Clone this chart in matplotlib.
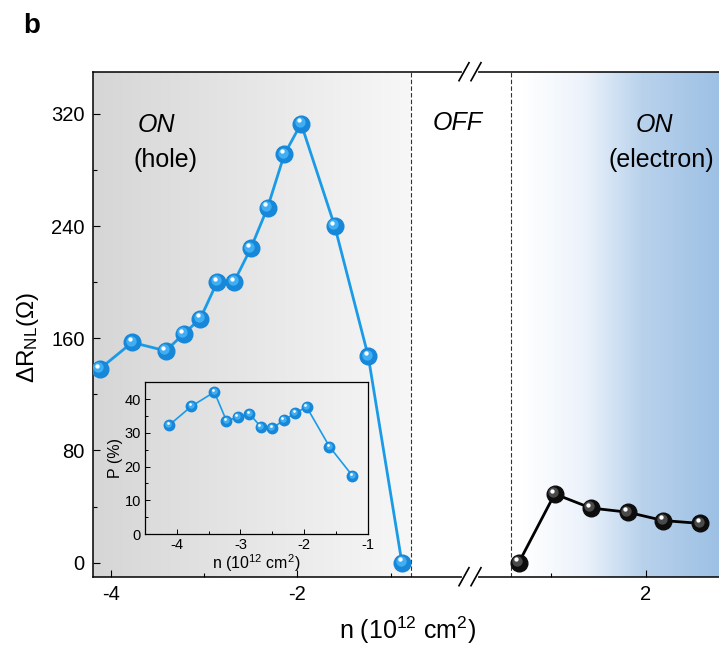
import numpy as np
import matplotlib
matplotlib.use('Agg')
import matplotlib.pyplot as plt
from matplotlib.ticker import MultipleLocator
from matplotlib.transforms import offset_copy
from matplotlib.colors import LinearSegmentedColormap
from matplotlib.lines import Line2D

plt.rcParams['font.family'] = ['Liberation Sans', 'DejaVu Sans']
plt.rcParams['mathtext.fontset'] = 'custom'
plt.rcParams['mathtext.rm'] = 'Liberation Sans'
plt.rcParams['mathtext.it'] = 'Liberation Sans:italic'
plt.rcParams['axes.unicode_minus'] = False

# hole side (main panel)
n_hole = [-4.12, -3.77, -3.41, -3.22, -3.04, -2.86, -2.68, -2.50, -2.32, -2.14, -1.96, -1.60, -1.24, -0.88]
dR_hole = [138, 157, 151, 163, 174, 200, 200, 224, 253, 291, 313, 240, 147, 0]
# electron side
n_elec = [0.66, 1.04, 1.42, 1.81, 2.19, 2.58]
dR_elec = [0, 49, 39, 36, 30, 28]
# inset: polarisation
n_in = [-4.12, -3.77, -3.41, -3.22, -3.04, -2.86, -2.68, -2.50, -2.32, -2.14, -1.96, -1.60, -1.24]
P_in = [32.3, 37.9, 42.1, 33.6, 34.6, 35.7, 31.8, 31.3, 33.8, 35.8, 37.7, 25.9, 17.3]

hole_edge = -0.786
elec_edge = 0.579

W, H = 719, 657
fig = plt.figure(figsize=(W/100, H/100), dpi=100)

def fx(px):
    return px / W
def fy(py):
    return 1 - py / H

x_break = 470
axL = fig.add_axes([fx(93), fy(576.7), fx(x_break) - fx(93), fy(71.7) - fy(576.7)])
axR = fig.add_axes([fx(x_break), fy(576.7), 1.0 - fx(x_break) + 0.003, fy(71.7) - fy(576.7)], sharey=axL)

axL.set_xlim(-4.19, -0.15)
axR.set_xlim(0.144, 2.80)
axL.set_ylim(-10, 350)

# background gradients
xg = np.linspace(-4.19, -0.15, 400)
gray = LinearSegmentedColormap.from_list('g', ['#d6d6d6', '#f7f7f7'])
t = np.clip((xg + 4.19) / (hole_edge + 4.19), 0, 1)
cols = gray(t)
cols[xg > hole_edge] = [1, 1, 1, 1]
axL.imshow(cols[None, :, :], extent=(-4.19, -0.15, -10, 350), aspect='auto', zorder=0)

xr = np.linspace(0.144, 2.80, 400)
blue = LinearSegmentedColormap.from_list('b', [(0, '#ffffff'), (0.3, '#edf3fb'), (0.6, '#b9d2ec'), (1, '#9cc0e4')])
tr_ = np.clip((xr - 0.70) / (2.80 - 0.70), 0, 1)
axR.imshow(blue(tr_)[None, :, :], extent=(0.144, 2.80, -10, 350), aspect='auto', zorder=0)

axL.axvline(hole_edge, color='#333333', lw=0.8, ls=(0, (4, 2)), zorder=1)
axR.axvline(elec_edge, color='#333333', lw=0.8, ls=(0, (4, 2)), zorder=1)


def sphere(ax, x, y, base, mid, ms, z):
    ax.plot(x, y, 'o', ms=ms, color=base, mec=base, ls='none', zorder=z)
    t1 = offset_copy(ax.transData, fig=fig, x=-ms*0.08, y=ms*0.10, units='points')
    ax.plot(x, y, 'o', ms=ms*0.62, color=mid, mec='none', ls='none', alpha=0.85, transform=t1, zorder=z+0.1)
    t2 = offset_copy(ax.transData, fig=fig, x=-ms*0.14, y=ms*0.2, units='points')
    ax.plot(x, y, 'o', ms=ms*0.26, color='white', mec='none', ls='none', transform=t2, zorder=z+0.2)


axL.plot(n_hole, dR_hole, '-', color='#1a9be8', lw=2.0, zorder=3)
sphere(axL, n_hole, dR_hole, '#1687d9', '#48b6f7', 12, 4)
axR.plot(n_elec, dR_elec, '-', color='black', lw=2.0, zorder=3)
sphere(axR, n_elec, dR_elec, '#0d0d0d', '#555555', 12, 4)

for ax in (axL, axR):
    for s in ax.spines.values():
        s.set_linewidth(1.1)
    ax.tick_params(which='both', direction='in', width=0.8, labelsize=14.5, top=False, right=False, pad=6)
    ax.tick_params(which='major', length=5)
    ax.tick_params(which='minor', length=3)
    ax.xaxis.set_major_locator(MultipleLocator(2))
    ax.xaxis.set_minor_locator(MultipleLocator(1))
axL.spines['right'].set_visible(False)
axR.spines['left'].set_visible(False)
axR.spines['right'].set_visible(False)
axR.tick_params(which='both', left=False, labelleft=False)
axL.yaxis.set_major_locator(MultipleLocator(80))
axL.yaxis.set_minor_locator(MultipleLocator(40))

axL.text(-3.51, 312, 'ON', fontsize=18, style='italic', ha='center', va='center')
axL.text(-3.415, 287, '(hole)', fontsize=18, ha='center', va='center')
fig.text(fx(458), fy(123), 'OFF', fontsize=18, style='italic', ha='center', va='center')
axR.text(2.095, 312, 'ON', fontsize=18, style='italic', ha='center', va='center')
axR.text(2.17, 287, '(electron)', fontsize=18, ha='center', va='center')

fig.text(fx(408), fy(630), 'n (10$^{12}$ cm$^{2}$)', fontsize=18, ha='center', va='center')
fig.text(fx(28), fy(338), r'ΔR$_{\mathrm{NL}}$(Ω)', fontsize=17.5, ha='center', va='center', rotation=90)
fig.text(fx(32), fy(26), 'b', fontsize=20, fontweight='bold', ha='center', va='center')

# axis break marks
for py in (71.7, 576.7):
    fig.add_artist(Line2D([fx(464), fx(476)], [fy(py), fy(py)], color='white', lw=3, zorder=10))
    for cx in (464, 476):
        fig.add_artist(Line2D([fx(cx - 5), fx(cx + 5)], [fy(py + 9), fy(py - 9)], color='black', lw=1.2, zorder=11))

# inset
axI = fig.add_axes([fx(145), fy(534), fx(368.3) - fx(145), fy(382.3) - fy(534)])
axI.patch.set_alpha(0)
axI.plot(n_in, P_in, '-', color='#1a9be8', lw=1.2, zorder=3)
sphere(axI, n_in, P_in, '#1687d9', '#48b6f7', 7.5, 4)
axI.set_xlim(-4.5, -0.99)
axI.set_ylim(0, 45)
axI.xaxis.set_major_locator(MultipleLocator(1))
axI.xaxis.set_minor_locator(MultipleLocator(0.5))
axI.yaxis.set_major_locator(MultipleLocator(10))
axI.yaxis.set_minor_locator(MultipleLocator(5))
axI.tick_params(which='both', direction='in', width=0.7, labelsize=10.5, pad=3)
axI.tick_params(which='major', length=3.5)
axI.tick_params(which='minor', length=2)
for s in axI.spines.values():
    s.set_linewidth(0.9)
axI.set_xlabel('n (10$^{12}$ cm$^{2}$)', fontsize=11.5, labelpad=0)
axI.set_ylabel('P (%)', fontsize=11.5, labelpad=1)

fig.savefig('out.png', dpi=100)
